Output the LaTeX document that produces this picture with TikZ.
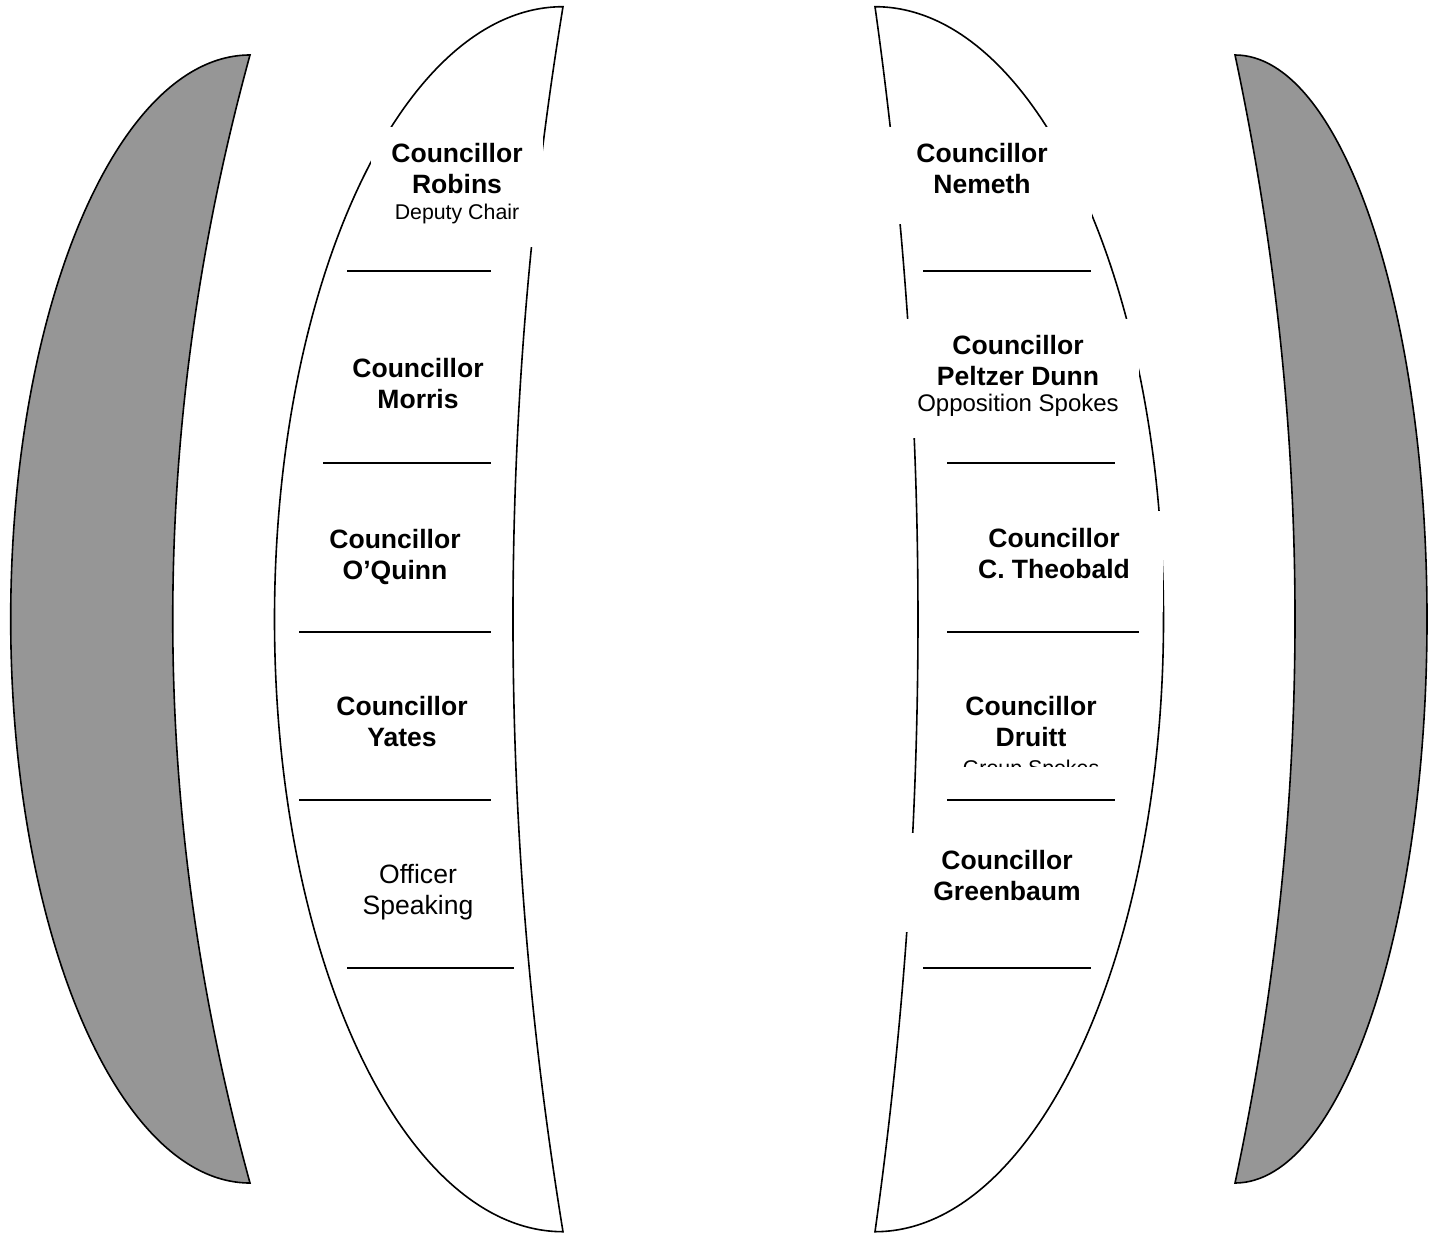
\documentclass[tikz,border=0pt]{standalone}
\usepackage{fontspec}
\setmainfont{Liberation Sans}

\begin{document}
\begin{tikzpicture}[x=0.75pt,y=0.75pt,yscale=-1,xscale=1,
    benchgray/.style={draw=black,line width=1.2pt,fill={rgb,255:red,150;green,150;blue,150}},
    benchwhite/.style={draw=black,line width=1.2pt,fill=white},
    cllr/.style={anchor=north,inner sep=0pt,align=center,font=\fontsize{19.9}{22.9}\selectfont\bfseries},
    officer/.style={anchor=north,inner sep=0pt,align=center,font=\fontsize{19.9}{22.9}\selectfont}]
    \useasboundingbox (0,0) rectangle (1437,1234);

    %Shape: Moon, left gray
    \draw [benchgray] (250,55) arc [start angle=-90,end angle=-270,x radius=239.3,y radius=564] .. controls (147,807) and (147,431) .. (250,55) -- cycle ;
    %Shape: Moon, right gray
    \draw [benchgray] (1235,55) arc [start angle=-90,end angle=90,x radius=192,y radius=564] .. controls (1315,807) and (1315,431) .. (1235,55) -- cycle ;
    %Shape: Moon, left bench
    \draw [benchwhite] (563,6.7) arc [start angle=-90,end angle=-270,x radius=288.5,y radius=612.5] .. controls (496.3,823.4) and (496.3,415) .. (563,6.7) -- cycle ;
    %Shape: Moon, right bench
    \draw [benchwhite] (875,6.7) arc [start angle=-90,end angle=90,x radius=288.5,y radius=612.5] .. controls (932.3,823.4) and (932.3,415) .. (875,6.7) -- cycle ;

    %Text boxes (white, no border)
    \fill [white] (371,127) rectangle (543,247) ;
    \fill [white] (872,127) rectangle (1092,224) ;
    \fill [white] (897,319) rectangle (1139,438) ;
    \fill [white] (945,511) rectangle (1163,612) ;
    \fill [white] (895,833) rectangle (1119,932) ;

    %Straight Lines, left bench
    \draw [line width=1.3pt] (347,271) -- (491,271) ;
    \draw [line width=1.3pt] (323,463) -- (491,463) ;
    \draw [line width=1.3pt] (299,632) -- (491,632) ;
    \draw [line width=1.3pt] (299,800) -- (491,800) ;
    \draw [line width=1.3pt] (347,968) -- (514,968) ;
    %Straight Lines, right bench
    \draw [line width=1.3pt] (923,271) -- (1091,271) ;
    \draw [line width=1.3pt] (947,463) -- (1115,463) ;
    \draw [line width=1.3pt] (947,632) -- (1139,632) ;
    \draw [line width=1.3pt] (947,800) -- (1115,800) ;
    \draw [line width=1.3pt] (923,968) -- (1091,968) ;

    % Text Node
    \node [cllr] (robins) at (457,143) {Councillor\\Robins\\[-3pt]{\fontsize{16}{19}\selectfont\mdseries Deputy Chair}};
    % Text Node
    \node [cllr] (morris) at (418,358) {Councillor\\Morris};
    % Text Node
    \node [cllr] (oquinn) at (395,529) {Councillor\\O’Quinn};
    % Text Node
    \node [cllr] (yates) at (402,696) {Councillor\\Yates};
    % Text Node
    \node [officer] (officer) at (418,864) {Officer\\Speaking};
    % Text Node
    \node [cllr] (nemeth) at (982,143) {Councillor\\Nemeth};
    % Text Node
    \node [cllr] (peltzer) at (1018,335) {Councillor\\Peltzer Dunn\\[-3pt]{\fontsize{18}{20}\selectfont\mdseries Opposition Spokes}};
    % Text Node
    \node [cllr] (theobald) at (1054,528) {Councillor\\C. Theobald};
    % Text Node, cut off at the foot of its box
    \begin{scope}
    \clip (940,680) rectangle (1125,766) ;
    \node [cllr] (druitt) at (1031,696) {Councillor\\Druitt\\[-1pt]{\fontsize{16}{19}\selectfont\mdseries Group Spokes}};
    \end{scope}
    % Text Node
    \node [cllr] (greenbaum) at (1007,850) {Councillor\\Greenbaum};

\end{tikzpicture}
\end{document}
